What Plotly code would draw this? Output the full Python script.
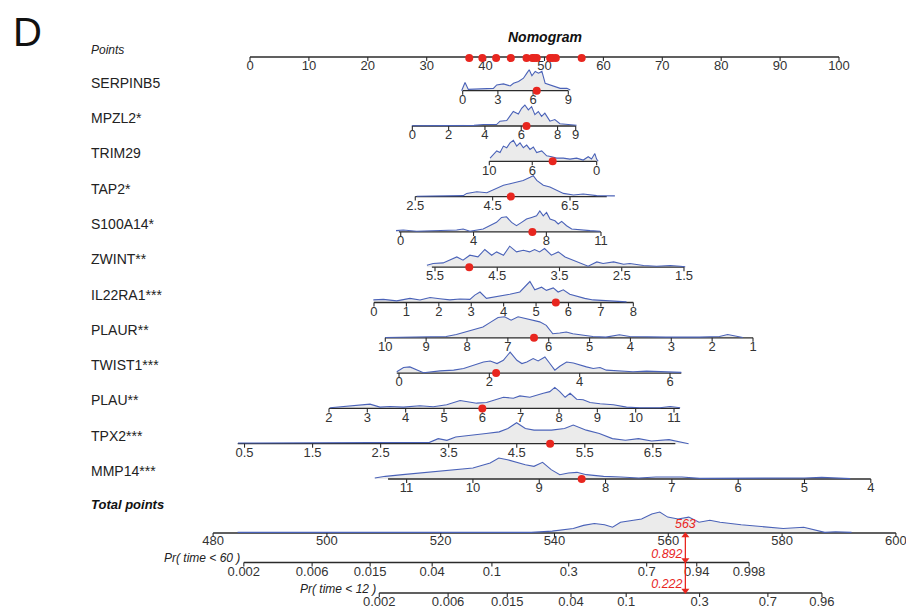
import plotly.graph_objects as go

# ------------------------------------------------------------------ data
var_names = ["SERPINB5", "MPZL2*", "TRIM29", "TAP2*", "S100A14*", "ZWINT**",
             "IL22RA1***", "PLAUR**", "TWIST1***", "PLAU**", "TPX2***", "MMP14***"]

var_ticks = [
    [0, 3, 6, 9],
    [0, 2, 4, 6, 8, 9],
    [10, 6, 0],
    [2.5, 4.5, 6.5],
    [0, 4, 8, 11],
    [5.5, 4.5, 3.5, 2.5, 1.5],
    [0, 1, 2, 3, 4, 5, 6, 7, 8],
    [10, 9, 8, 7, 6, 5, 4, 3, 2, 1],
    [0, 2, 4, 6],
    [2, 3, 4, 5, 6, 7, 8, 9, 10, 11],
    [0.5, 1.5, 2.5, 3.5, 4.5, 5.5, 6.5],
    [11, 10, 9, 8, 7, 6, 5, 4],
]

# (value_a, points_a, value_b, points_b): linear value -> points scale of each variable
var_scale = [
    (0, 36.11, 9, 54.04),
    (0, 27.56, 9, 55.30),
    (10, 40.63, 0, 58.86),
    (2.5, 28.06, 6.5, 54.33),
    (0, 25.59, 11, 59.59),
    (5.5, 31.41, 1.5, 73.68),
    (0, 21.05, 8, 65.08),
    (10, 22.97, 1, 85.40),
    (0, 25.30, 6, 71.31),
    (2, 13.41, 11, 71.99),
    (0.5, -0.93, 6.5, 68.40),
    (11, 26.59, 4, 105.40),
]

# observed range of each variable (axis line extent)
var_range = [(0, 9), (0, 9), (10, 0), (2.5, 7.45), (-0.1, 11), (5.55, 1.5),
             (0, 8), (10, 1), (-0.05, 6.25), (2, 11.15), (0.4, 6.83), (11.28, 4)]

# the patient's values (red dots)
patient_values = [6.31, 6.29, 4.1, 4.97, 7.23, 4.95, 5.61, 6.36, 2.15, 6.0, 4.99, 8.36]

points_ticks = [0, 10, 20, 30, 40, 50, 60, 70, 80, 90, 100]

total_ticks = [480, 500, 520, 540, 560, 580, 600]
patient_total = 563

pr60_labels = ["0.002", "0.006", "0.015", "0.04", "0.1", "0.3", "0.7", "0.94", "0.998"]
pr60_at_total = [485.4, 497.4, 507.6, 518.5, 529.0, 542.5, 556.2, 565.0, 574.2]
pr12_labels = ["0.002", "0.006", "0.015", "0.04", "0.1", "0.3", "0.7", "0.96"]
pr12_at_total = [509.2, 521.3, 531.7, 542.9, 552.6, 565.5, 577.5, 587.0]
patient_pr60 = "0.892"
patient_pr12 = "0.222"

# density outlines (value, relative height) for each variable
SERPINB5_x = [-0.09, 0.2, 0.48, 1.48, 2.62, 2.9, 3.47, 4.05, 4.33, 4.76, 5.18, 5.47, 5.67,
              5.9, 6.18, 6.46, 6.75, 7.03, 7.46, 7.89, 8.31, 8.88, 9.17]
SERPINB5_h = [0, 8, 1.3, 2, 2.3, 5.7, 6.7, 4.7, 7.3, 9, 12.3, 17.3, 20.7, 14.7, 19, 17.3,
              19, 7.3, 5.7, 4, 2.3, 2.3, 0.7]
MPZL2_x = [-0.03, 1.0, 1.89, 2.81, 3.4, 3.91, 4.64, 4.83, 5.2, 5.56, 5.84, 6.02, 6.2, 6.39,
           6.57, 6.75, 6.94, 7.12, 7.3, 7.58, 7.85, 8.13, 8.5, 9.05]
MPZL2_h = [0.3, 0.5, 1, 1.2, 0.6, 1.5, 1.5, 5, 5.7, 15, 12.3, 18.3, 21.7, 16.7, 20, 11.7,
           15, 10, 13.3, 5, 6.7, 2.3, 1.7, 0.7]
TRIM29_x = [9.93, 9.62, 9.31, 9.0, 8.69, 8.38, 8.07, 7.76, 7.45, 7.14, 6.83, 6.52, 6.21, 5.9,
            5.59, 5.12, 4.66, 4.19, 3.73, 3.11, 2.49, 1.87, 1.25, 0.79, 0.48, 0.17, 0.01, -0.14]
TRIM29_h = [3.3, 7.3, 10.7, 9, 15.7, 14, 19, 21.7, 15.7, 19, 14, 16.7, 12.3, 14.7, 9, 10.7,
            5.7, 4.7, 3.3, 3.3, 2.3, 3.3, 1.3, 4.7, 2.3, 8, 2.3, 0]
TAP2_x = [2.535, 3.0, 3.4, 3.74, 3.83, 4.09, 4.35, 4.6, 4.78, 4.95, 5.12, 5.29, 5.47, 5.55,
          5.64, 5.81, 5.98, 6.15, 6.33, 6.59, 6.84, 7.19, 7.53, 7.66]
TAP2_h = [0.3, 0.8, 0.5, 1, 3.3, 5, 4, 8.3, 11.7, 13.3, 15, 16.7, 20, 21.7, 16.7, 11.7, 10,
          6.7, 3.3, 1.7, 2.7, 1, 0.7, 0.7]
S100A14_x = [-0.26, 0.14, 0.87, 1.6, 2.34, 3.07, 3.43, 3.8, 4.53, 4.9, 5.26, 5.54, 5.81, 6.09,
             6.36, 6.64, 6.91, 7.19, 7.46, 7.64, 7.83, 8.01, 8.2, 8.47, 8.65, 8.84, 9.11, 9.39,
             9.85, 10.4, 10.95]
S100A14_h = [1.3, 2, 0.7, 1.3, 1.3, 2, 3, 0.7, 3, 6.3, 9.7, 14.7, 15.3, 9.7, 6.3, 9.7, 13,
             14.7, 16.3, 21.3, 16.3, 19.7, 13, 11.3, 8, 10.7, 6.3, 3, 2, 1.3, 0.7]
ZWINT_x = [5.63, 5.53, 5.37, 5.26, 5.15, 5.05, 4.94, 4.81, 4.7, 4.59, 4.51, 4.4, 4.3, 4.19,
           4.08, 3.98, 3.9, 3.82, 3.74, 3.63, 3.52, 3.41, 3.28, 3.17, 3.04, 2.9, 2.8, 2.63,
           2.47, 2.37, 2.15, 1.94, 1.72, 1.56, 1.48]
ZWINT_h = [2, 3.7, 4.3, 7, 10.3, 7, 12, 10.3, 17.7, 12, 15.3, 12, 21, 15.3, 17, 15.3, 17.7,
           15.3, 18.7, 12, 15.3, 10.3, 7, 3.7, 1, 5.3, 3.7, 5.3, 3, 3.7, 1.7, 1, 1.7, 1, 0.3]
IL22RA1_x = [-0.02, 0.29, 0.7, 1.11, 1.42, 1.73, 2.03, 2.34, 2.65, 2.96, 3.11, 3.27, 3.47,
             3.78, 4.19, 4.5, 4.65, 4.81, 4.96, 5.17, 5.32, 5.53, 5.68, 5.84, 6.04, 6.25, 6.5,
             6.76, 7.07, 7.38, 7.69, 7.79]
IL22RA1_h = [2.7, 3.3, 1.7, 4.3, 2.7, 5.3, 4, 2.7, 3.7, 3.3, 7.7, 11, 4.3, 6, 8.7, 11, 16, 22,
             13.3, 16, 12.7, 15.3, 11, 13.3, 8.7, 6.7, 4.3, 2.7, 2, 1.3, 1, 0.7]
PLAUR_x = [10.0, 9.64, 9.0, 8.51, 8.26, 7.94, 7.61, 7.41, 7.24, 7.08, 6.92, 6.75, 6.59, 6.39,
           6.22, 6.06, 5.9, 5.73, 5.57, 5.41, 5.16, 4.92, 4.6, 4.27, 4.02, 3.62, 3.13, 2.31,
           1.82, 1.62, 1.41, 1.25]
PLAUR_h = [0.3, 0.7, 0.7, 1.3, 3.3, 6.7, 10.7, 15.7, 20, 20.7, 17.3, 20.7, 19, 17.3, 15.7,
           12.3, 4, 4.7, 5.7, 4, 2.3, 1.3, 0.7, 3, 1.3, 0.7, 0.7, 0.7, 1.3, 3.3, 1.3, 0.3]
TWIST1_x = [-0.05, 0.1, 0.24, 0.39, 0.54, 0.91, 1.21, 1.43, 1.65, 1.87, 2.02, 2.17, 2.31, 2.46,
            2.61, 2.72, 2.83, 2.97, 3.08, 3.23, 3.34, 3.45, 3.56, 3.71, 3.86, 4.0, 4.15, 4.3,
            4.45, 4.59, 4.89, 5.18, 5.48, 5.92, 6.25]
TWIST1_h = [1.3, 5.7, 6.3, 3, 0.3, 2.3, 3, 4.7, 8, 11.3, 12.3, 9.7, 13, 21.3, 13, 9.7, 11.3,
            14.7, 12.3, 16.3, 9.7, 3, 7, 11.3, 10.3, 8, 6.3, 4.7, 5.7, 3, 2.3, 1.3, 2, 1, 0.7]
PLAU_x = [2.03, 2.37, 2.72, 3.07, 3.33, 3.59, 3.94, 4.37, 4.72, 5.07, 5.42, 5.59, 5.85, 6.11,
          6.37, 6.55, 6.81, 6.98, 7.24, 7.42, 7.59, 7.76, 7.89, 8.02, 8.16, 8.29, 8.46, 8.63,
          8.81, 9.07, 9.42, 9.76, 10.11, 10.63, 10.9, 11.16]
PLAU_h = [0.7, 2, 2.7, 4.3, 1.3, 2, 1.3, 2.7, 1.7, 3.7, 8, 7, 5.3, 6, 8.7, 11.3, 10.3, 12.7,
          11.3, 13.7, 15.3, 17, 21.3, 17, 11.3, 15.3, 9.3, 8.7, 6, 4.7, 3.7, 1.3, 0.7, 0.7, 2, 0.7]
TPX2_x = [0.404, 0.787, 1.427, 2.067, 2.706, 3.218, 3.346, 3.474, 3.602, 3.858, 4.05, 4.242,
          4.37, 4.498, 4.626, 4.754, 5.01, 5.202, 5.33, 5.521, 5.713, 5.905, 6.097, 6.289,
          6.481, 6.737, 6.929, 7.025]
TPX2_h = [2, 2, 2, 4, 4, 4, 15, 10, 20, 25, 30, 35, 45, 62, 45, 40, 40, 45, 55, 40, 30, 15,
          10, 15, 8, 12, 5, 0]
MMP14_x = [11.48, 11.32, 11.06, 10.79, 10.53, 10.27, 10.0, 9.74, 9.61, 9.48, 9.35, 9.21, 9.08,
           8.95, 8.82, 8.69, 8.56, 8.43, 8.29, 8.03, 7.77, 7.5, 7.24, 6.85, 6.58, 6.19, 5.92,
           5.4, 5.0, 4.74, 4.47, 4.31]
MMP14_h = [3, 8, 13, 18, 23, 28, 33, 48, 63, 58, 50, 43, 38, 50, 28, 13, 18, 20, 13, 8, 6, 3,
           6, 6, 2, 2, 2, 4, 3, 5, 3, 1]
TOTAL_x = [484.3, 488.9, 494.4, 499.0, 511.9, 519.3, 524.8, 535.9, 539.6, 543.3, 545.1, 547.0,
           548.8, 550.2, 551.6, 553.4, 555.3, 557.1, 558.5, 559.9, 561.7, 563.6, 565.4, 567.3,
           569.1, 572.8, 576.5, 580.2, 583.8, 585.7, 587.5, 589.4, 592.2]
TOTAL_h = [1, 1, 1, 1, 2, 2, 1.5, 1, 3, 7, 12, 15, 13, 9, 17, 20, 22, 30, 33, 25, 22, 25, 17,
           20, 17, 13, 10, 7, 9, 5, 1, 2, 1]

dens_x = [SERPINB5_x, MPZL2_x, TRIM29_x, TAP2_x, S100A14_x, ZWINT_x, IL22RA1_x, PLAUR_x,
          TWIST1_x, PLAU_x, TPX2_x, MMP14_x]
dens_h = [SERPINB5_h, MPZL2_h, TRIM29_h, TAP2_h, S100A14_h, ZWINT_h, IL22RA1_h, PLAUR_h,
          TWIST1_h, PLAU_h, TPX2_h, MMP14_h]

# ------------------------------------------------------------------ layout geometry
W, H = 906, 612        # figure fills the window (page margin removed in post_script)

P0_PX, P_PER = 250.0, 5.89                     # points axis (px)
T_REF, T_REF_PX, T_PER = 560.0, 668.3, 5.69    # total points axis (px)
x_range = [-P0_PX / P_PER, (W - P0_PX) / P_PER]
x2_range = [T_REF - T_REF_PX / T_PER, T_REF + (W - T_REF_PX) / T_PER]
y_range = [H, 0]

POINTS_Y = 57.0
ROW_Y0, ROW_DY = 90.7, 35.3
TOTAL_Y = 533.0
PR60_Y = 562.5
PR12_Y = 593.0
DENS_H = 21.0
TICK_LEN = 4.0
LAB_OFF = 10.0

AXIS_COL = "#2b2b2b"
TEXT_COL = "#333333"
BLUE = "#4a62b8"
FILL = "#ebebeb"
RED = "#e8261f"
TICK_FONT = dict(family="Liberation Sans Narrow, Liberation Sans, Arial", size=13, color=TEXT_COL)
NAME_FONT = dict(family="Liberation Sans, Arial", size=14, color="#222222")


def px_x(px):
    return px / W


def px_y(py):
    return 1 - py / H


def to_pts(v, sc):
    va, pa, vb, pb = sc
    return pa + (v - va) * (pb - pa) / (vb - va)


def lab(t):
    return ("%g" % t)


fig = go.Figure()


def add_density(xs, hs, base, xaxis):
    m = max(hs)
    ys = [base - h / m * DENS_H for h in hs]
    fig.add_trace(go.Scatter(x=[xs[0]] + xs + [xs[-1]], y=[base] + ys + [base],
                             mode="lines", fill="toself", fillcolor=FILL,
                             line=dict(width=0), xaxis=xaxis, hoverinfo="skip",
                             showlegend=False))
    return ys


def add_axis(x_line, xt, labels, y, xaxis, dens=None, lab_off=LAB_OFF):
    fig.add_trace(go.Scatter(x=x_line, y=[y, y], mode="lines",
                             line=dict(color=AXIS_COL, width=1.3), xaxis=xaxis,
                             hoverinfo="skip", showlegend=False))
    if dens is not None:
        fig.add_trace(go.Scatter(x=dens[0], y=dens[1], mode="lines",
                                 line=dict(color=BLUE, width=1.1), xaxis=xaxis,
                                 hoverinfo="skip", showlegend=False))
    tx, ty = [], []
    for v in xt:
        tx += [v, v, None]
        ty += [y, y + TICK_LEN, None]
    fig.add_trace(go.Scatter(x=tx, y=ty, mode="lines",
                             line=dict(color=AXIS_COL, width=1.1), xaxis=xaxis,
                             hoverinfo="skip", showlegend=False))
    fig.add_trace(go.Scatter(x=xt, y=[y + lab_off] * len(xt), mode="text", text=labels,
                             textposition="middle center", textfont=TICK_FONT,
                             cliponaxis=False, xaxis=xaxis, hoverinfo="skip",
                             showlegend=False))


# points axis
add_axis([points_ticks[0], points_ticks[-1]], points_ticks, [lab(t) for t in points_ticks],
         POINTS_Y, "x")

# variable rows
patient_pts = []
for i, name in enumerate(var_names):
    y = ROW_Y0 + i * ROW_DY
    sc = var_scale[i]
    dx = [to_pts(v, sc) for v in dens_x[i]]
    dy = add_density(dx, dens_h[i], y, "x")
    add_axis([to_pts(var_range[i][0], sc), to_pts(var_range[i][1], sc)],
             [to_pts(t, sc) for t in var_ticks[i]], [lab(t) for t in var_ticks[i]],
             y, "x", dens=(dx, dy))
    p = to_pts(patient_values[i], sc)
    patient_pts.append(p)
    fig.add_trace(go.Scatter(x=[p], y=[y], mode="markers",
                             marker=dict(color=RED, size=8, line=dict(width=0)),
                             xaxis="x", hoverinfo="skip", showlegend=False))
    fig.add_annotation(x=px_x(89), y=px_y(y - 8), xref="paper", yref="paper",
                       text=name, showarrow=False, xanchor="left", yanchor="middle",
                       font=NAME_FONT)

# red dots on the points axis
fig.add_trace(go.Scatter(x=patient_pts, y=[POINTS_Y + 1] * len(patient_pts), mode="markers",
                         marker=dict(color=RED, size=8, line=dict(width=0)),
                         xaxis="x", hoverinfo="skip", showlegend=False))

# total points
tdy = add_density(TOTAL_x, TOTAL_h, TOTAL_Y, "x2")
add_axis([total_ticks[0], total_ticks[-1]], total_ticks, [lab(t) for t in total_ticks],
         TOTAL_Y, "x2", dens=(TOTAL_x, tdy), lab_off=9.0)

# probability axes
add_axis([pr60_at_total[0], pr60_at_total[-1]], pr60_at_total, pr60_labels, PR60_Y, "x2")
add_axis([pr12_at_total[0], pr12_at_total[-1]], pr12_at_total, pr12_labels, PR12_Y, "x2")

# red arrow through the bottom axes
fig.add_trace(go.Scatter(x=[patient_total, patient_total], y=[TOTAL_Y + 1, PR12_Y - 1],
                         mode="lines", line=dict(color=RED, width=1.3), xaxis="x2",
                         hoverinfo="skip", showlegend=False))
fig.add_trace(go.Scatter(x=[patient_total], y=[TOTAL_Y + 2.5], mode="markers",
                         marker=dict(symbol="triangle-up", color=RED, size=7),
                         xaxis="x2", hoverinfo="skip", showlegend=False))
fig.add_trace(go.Scatter(x=[patient_total, patient_total], y=[PR60_Y - 2.5, PR12_Y - 2.5],
                         mode="markers",
                         marker=dict(symbol="triangle-down", color=RED, size=7),
                         xaxis="x2", hoverinfo="skip", showlegend=False))
RED_FONT = dict(family="Liberation Sans, Arial", size=12.5, color=RED)
fig.add_trace(go.Scatter(x=[patient_total], y=[TOTAL_Y - 8], mode="text",
                         text=["<i>%d</i>" % patient_total], textposition="middle center",
                         textfont=RED_FONT, cliponaxis=False, xaxis="x2", hoverinfo="skip",
                         showlegend=False))
fig.add_trace(go.Scatter(x=[patient_total - 0.5] * 2, y=[PR60_Y - 8, PR12_Y - 8.5],
                         mode="text", text=["<i>%s</i>" % patient_pr60, "<i>%s</i>" % patient_pr12],
                         textposition="middle left", textfont=RED_FONT, cliponaxis=False,
                         xaxis="x2", hoverinfo="skip", showlegend=False))

# labels
ITAL = dict(family="Liberation Sans, Arial", size=12, color="#222222")
fig.add_annotation(x=px_x(89), y=px_y(50), xref="paper", yref="paper", text="<i>Points</i>",
                   showarrow=False, xanchor="left", yanchor="middle", font=ITAL)
fig.add_annotation(x=px_x(89), y=px_y(504), xref="paper", yref="paper",
                   text="<b><i>Total points</i></b>", showarrow=False, xanchor="left",
                   yanchor="middle", font=dict(family="Liberation Sans, Arial", size=13,
                                               color="#111111"))
fig.add_annotation(x=px_x(545), y=px_y(37), xref="paper", yref="paper",
                   text="<b><i>Nomogram</i></b>", showarrow=False, xanchor="center",
                   yanchor="middle", font=dict(family="Liberation Sans, Arial", size=14,
                                               color="#111111"))
fig.add_annotation(x=px_x(242), y=px_y(558), xref="paper", yref="paper",
                   text="<i>Pr( time < 60 )</i>", showarrow=False, xanchor="right",
                   yanchor="middle", font=ITAL)
fig.add_annotation(x=px_x(378), y=px_y(589), xref="paper", yref="paper",
                   text="<i>Pr( time < 12 )</i>", showarrow=False, xanchor="right",
                   yanchor="middle", font=ITAL)
fig.add_annotation(x=px_x(11), y=px_y(8), xref="paper", yref="paper", text="D",
                   showarrow=False, xanchor="left", yanchor="top",
                   font=dict(family="Liberation Sans, Arial", size=40, color="#111111"))

fig.update_layout(
    width=W, height=H, margin=dict(l=0, r=0, t=0, b=0),
    paper_bgcolor="white", plot_bgcolor="white", showlegend=False,
    xaxis=dict(range=x_range, visible=False, domain=[0, 1], fixedrange=True),
    xaxis2=dict(range=x2_range, visible=False, overlaying="x", anchor="y", fixedrange=True),
    yaxis=dict(range=y_range, visible=False, domain=[0, 1], fixedrange=True),
)

fig.write_html(
    "out.html",
    config={"displayModeBar": False},
    post_script="document.body.style.margin='0';document.body.style.overflow='hidden';",
)
